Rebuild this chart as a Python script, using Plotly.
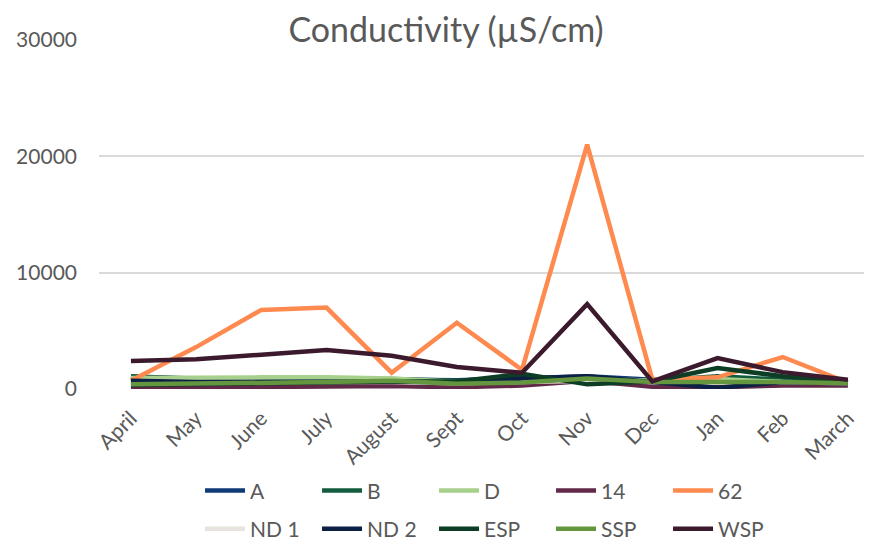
import plotly.graph_objects as go

months = ["April", "May", "June", "July", "August", "Sept", "Oct", "Nov", "Dec", "Jan", "Feb", "March"]

A = [1050, 900, 850, 850, 800, 750, 900, 1100, 800, 600, 700, 600]
B = [1100, 850, 800, 800, 850, 700, 1000, 800, 700, 1100, 800, 600]
D = [950, 1000, 1000, 1000, 900, 600, 700, 900, 700, 850, 600, 500]
S14 = [100, 150, 200, 200, 250, 150, 300, 700, 200, 150, 300, 300]
S62 = [700, 3600, 6800, 7000, 1400, 5700, 1650, 21000, 800, 1000, 2750, 550]
ND1 = [600, 600, 650, 650, 600, 500, 600, 700, 600, 550, 600, 500]
ND2 = [700, 600, 600, 650, 650, 550, 900, 1100, 600, 100, 600, 500]
ESP = [350, 450, 500, 550, 650, 650, 1300, 400, 650, 1800, 1100, 700]
SSP = [400, 450, 500, 600, 700, 450, 550, 900, 600, 600, 600, 500]
WSP = [2400, 2550, 2950, 3350, 2850, 1900, 1400, 7300, 650, 2650, 1450, 800]

series = [
    ("A", A, "#0e3a75"),
    ("B", B, "#145c3e"),
    ("D", D, "#a8d08d"),
    ("14", S14, "#612847"),
    ("62", S62, "#ff8a4f"),
    ("ND 1", ND1, "#e6e4dc"),
    ("ND 2", ND2, "#0c1f45"),
    ("ESP", ESP, "#0d3d24"),
    ("SSP", SSP, "#64963f"),
    ("WSP", WSP, "#3c1a2e"),
]

fig = go.Figure()
for i, (name, vals, col) in enumerate(series):
    fig.add_trace(go.Scatter(x=months, y=vals, name=name, mode="lines",
                             line=dict(color=col, width=4.5), cliponaxis=False,
                             legend="legend" if i < 5 else "legend2"))

font = "Lato, Carlito, 'Liberation Sans', sans-serif"
leg_common = dict(orientation="h", xanchor="left", yanchor="middle", yref="container",
                  entrywidth=62, entrywidthmode="pixels", itemwidth=40,
                  font=dict(size=21, color="#595959", family=font),
                  bgcolor="rgba(0,0,0,0)")
fig.update_layout(
    width=864, height=539,
    margin=dict(l=91, r=0, t=32, b=158),
    paper_bgcolor="white", plot_bgcolor="white",
    font=dict(family=font, color="#595959", size=21),
    title=dict(text="Conductivity (µS/cm)", x=0.507, xanchor="center", y=0.982, yanchor="top",
               font=dict(size=34, color="#595959", family=font)),
    xaxis=dict(type="category", range=[-0.49, 11.37], showgrid=False, showline=False,
               ticks="", tickangle=-45, ticklabelstandoff=12, automargin=False,
               tickfont=dict(size=21, color="#595959")),
    yaxis=dict(range=[0, 30000], tickvals=[0, 10000, 20000, 30000], ticktext=["0", "10000", "20000", "30000"],
               showgrid=True, gridcolor="#d9d9d9", gridwidth=1.5, zeroline=False, showline=False,
               ticks="", ticklabelstandoff=21, automargin=False,
               tickfont=dict(size=21, color="#595959")),
    legend=dict(x=0.1307, y=0.104, **leg_common),
    legend2=dict(x=0.1307, y=0.0334, **leg_common),
    showlegend=True,
)
fig.write_html("out.html")
